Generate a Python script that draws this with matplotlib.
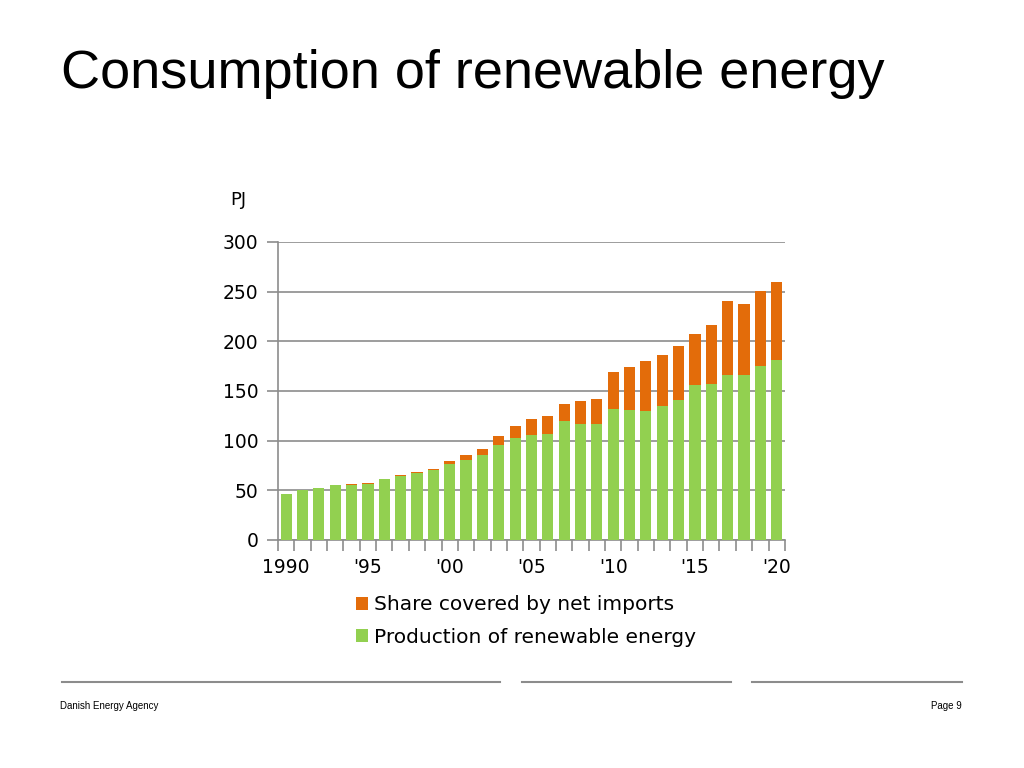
import matplotlib.pyplot as plt
import numpy as np

years = list(range(1990, 2021))
total = [46.0, 50.3, 52.7, 55.0, 56.4, 57.4, 61.7, 65.4, 68.8, 71.8,
         79.2, 85.2, 91.6, 104.4, 114.4, 121.8, 124.5, 137.2, 139.6, 142.3,
         168.8, 173.8, 180.2, 186.2, 195.3, 207.7, 216.4, 240.6, 237.9, 250.7, 259.4]
production = [46.0, 50.3, 52.7, 55.0, 55.0, 56.4, 61.0, 64.0, 67.4, 70.5,
              76.2, 80.5, 85.2, 95.3, 102.7, 105.7, 107.0, 119.8, 116.8, 116.8,
              131.9, 130.9, 129.9, 134.9, 140.9, 156.0, 157.4, 166.1, 166.1, 175.2, 181.2]
imports = [t - p for t, p in zip(total, production)]
tick_labels = ['1990', "'95", "'00", "'05", "'10", "'15", "'20"]

fig = plt.figure(figsize=(10.24, 7.68), dpi=100)
ax = fig.add_axes([0.2715, 0.297, 0.495, 0.388])

x = np.arange(len(years))
ax.bar(x, production, width=0.68, color='#92D050', label='Production of renewable energy', zorder=3)
ax.bar(x, imports, bottom=production, width=0.68, color='#E36C0A', label='Share covered by net imports', zorder=3)

ax.set_xlim(-0.5, len(years) - 0.5)
ax.set_ylim(0, 300)
ax.set_yticks(range(0, 301, 50))
ax.yaxis.grid(True, color='#8c8c8c', linewidth=1.2, zorder=0)
ax.tick_params(axis='y', length=8, color='#8c8c8c', width=1.2, labelsize=13.5, pad=6)

ax.set_xticks(x[::5])
ax.set_xticklabels(tick_labels)
ax.set_xticks(np.arange(-0.5, len(years), 1), minor=True)
ax.tick_params(axis='x', which='major', length=0, labelsize=13.5, pad=13)
ax.tick_params(axis='x', which='minor', length=8, color='#8c8c8c', width=1.2)

for s in ['top', 'right']:
    ax.spines[s].set_visible(False)
for s in ['left', 'bottom']:
    ax.spines[s].set_color('#8c8c8c')
    ax.spines[s].set_linewidth(1.2)

ax.text(-0.079, 1.141, 'PJ', transform=ax.transAxes, fontsize=13, ha='center', va='center')

handles, labels = ax.get_legend_handles_labels()
ax.legend(handles[::-1], labels[::-1], loc='upper center', bbox_to_anchor=(0.49, -0.125),
          frameon=False, fontsize=14.5, handlelength=0.6, handleheight=0.6,
          handletextpad=0.3, labelspacing=0.68)

fig.text(0.06, 0.903, 'Consumption of renewable energy', fontsize=39,
         family='Liberation Sans', va='center', ha='left')

for x0, x1 in [(62, 500), (522, 731), (752, 962)]:
    fig.add_artist(plt.Line2D([x0 / 1024, x1 / 1024], [1 - 682 / 768] * 2,
                              color='#8c8c8c', linewidth=1.5))
fig.text(60 / 1024, 1 - 706 / 768, 'Danish Energy Agency', fontsize=7,
         family='Liberation Sans', va='center', ha='left')
fig.text(962 / 1024, 1 - 706 / 768, 'Page 9', fontsize=7,
         family='Liberation Sans', va='center', ha='right')

fig.savefig('out.png', dpi=100)
